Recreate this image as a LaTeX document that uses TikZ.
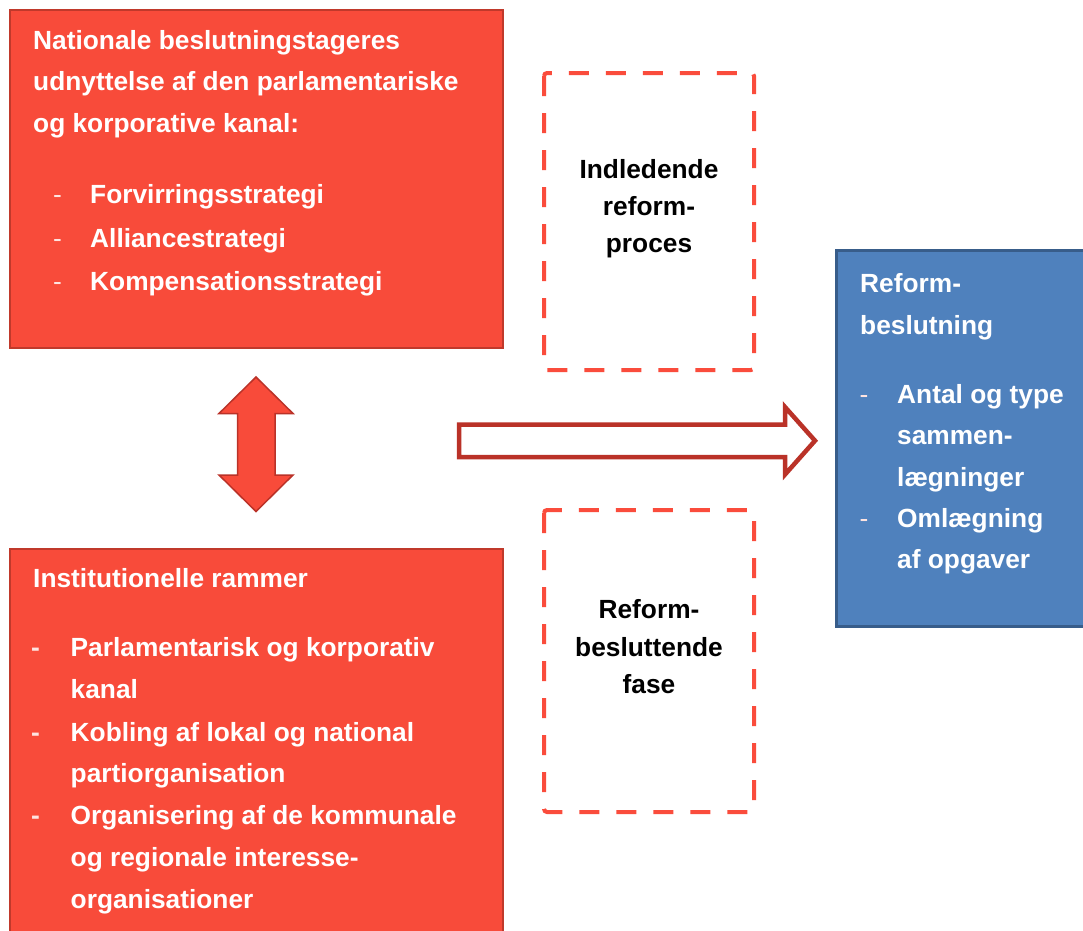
\documentclass[tikz,border=0pt]{standalone}
\usepackage{fontspec}
\setmainfont{Liberation Sans}
\definecolor{boxred}{RGB}{248,75,58}
\definecolor{boxredline}{RGB}{192,57,43}
\definecolor{dashred}{RGB}{250,76,60}
\definecolor{arrowline}{RGB}{186,50,40}
\definecolor{boxblue}{RGB}{79,129,189}
\definecolor{boxblueline}{RGB}{56,93,138}
\begin{document}
\begin{tikzpicture}[x=1pt,y=-1pt,
  txt/.style={inner sep=0pt, anchor=base west, font=\fontsize{26.3}{30}\selectfont\bfseries},
  wtxt/.style={txt, text=white},
  btxt/.style={txt, anchor=base, text=black},
  dashmark/.style={inner sep=0pt, anchor=base west, text=white!85!boxred, font=\fontsize{26.3}{30}\selectfont},
  dashmarkb/.style={dashmark, font=\fontsize{26.3}{30}\selectfont\bfseries},
  redbox/.style={fill=boxred, draw=boxredline, line width=2pt},
  bluebox/.style={fill=boxblue, draw=boxblueline, line width=3pt},
  dashbox/.style={draw=dashred, line width=4pt, dash pattern=on 20pt off 17pt, rounded corners=3pt},
  blockarrow/.style={fill=boxred, draw=arrowline, line width=1.5pt, line join=miter},
  hollowarrow/.style={fill=white, draw=arrowline, line width=4.5pt, line join=miter}
]
\useasboundingbox (0,0) rectangle (1083,930);
\clip (0,0) rectangle (1083,930);
\fill[white] (0,0) rectangle (1083,930);

% boxes
\draw[redbox] (10,10) rectangle (503,348);
\draw[redbox] (10,549) rectangle (503,945);
\draw[bluebox] (836,250) rectangle (1100,626);
\draw[dashbox] (544,73) rectangle (754,370);
\draw[dashbox] (544,510) rectangle (754,812);

% arrows
\draw[blockarrow] (256,377) -- (293,413.5) -- (275,413.5) -- (275,475) -- (293,475) -- (256,511.5) -- (219,475) -- (237.5,475) -- (237.5,413.5) -- (219,413.5) -- cycle;
\draw[hollowarrow] (459,424.5) -- (785,424.5) -- (785,407) -- (815,440.7) -- (785,474.5) -- (785,457) -- (459,457) -- cycle;

% top red box text
\node[wtxt] (t1) at (33,49) {Nationale beslutningstageres};
\node[wtxt] (t2) at (33,90.5) {udnyttelse af den parlamentariske};
\node[wtxt] (t3) at (33,132) {og korporative kanal:};
\node[dashmark] (td1) at (53,203) {-};
\node[dashmark] (td2) at (53,247) {-};
\node[dashmark] (td3) at (53,290) {-};
\node[wtxt] (tb1) at (90,203) {Forvirringsstrategi};
\node[wtxt] (tb2) at (90,247) {Alliancestrategi};
\node[wtxt] (tb3) at (90,290) {Kompensationsstrategi};

% bottom red box text
\node[wtxt] (i0) at (33,587) {Institutionelle rammer};
\node[dashmarkb] (id1) at (31,656) {-};
\node[dashmarkb] (id2) at (31,741) {-};
\node[dashmarkb] (id3) at (31,824.5) {-};
\node[wtxt] (i1) at (70.5,656) {Parlamentarisk og korporativ};
\node[wtxt] (i2) at (70.5,698) {kanal};
\node[wtxt] (i3) at (70.5,741) {Kobling af lokal og national};
\node[wtxt] (i4) at (70.5,782.5) {partiorganisation};
\node[wtxt] (i5) at (70.5,824.5) {Organisering af de kommunale};
\node[wtxt] (i6) at (70.5,866.5) {og regionale interesse-};
\node[wtxt] (i7) at (70.5,908) {organisationer};

% blue box text
\node[wtxt] (r0) at (860,292.5) {Reform-};
\node[wtxt] (r1) at (860,334) {beslutning};
\node[dashmark] (rd1) at (859.5,403) {-};
\node[dashmark] (rd2) at (859.5,527) {-};
\node[wtxt] (r2) at (897,403) {Antal og type};
\node[wtxt] (r3) at (897,444.5) {sammen-};
\node[wtxt] (r4) at (897,486) {lægninger};
\node[wtxt] (r5) at (897,527) {Omlægning};
\node[wtxt] (r6) at (897,568.5) {af opgaver};

% dashed box texts
\node[btxt] (p1) at (649,178) {Indledende};
\node[btxt] (p2) at (649,215) {reform-};
\node[btxt] (p3) at (649,252) {proces};
\node[btxt] (q1) at (649,618.5) {Reform-};
\node[btxt] (q2) at (649,656) {besluttende};
\node[btxt] (q3) at (649,693) {fase};
\end{tikzpicture}
\end{document}
